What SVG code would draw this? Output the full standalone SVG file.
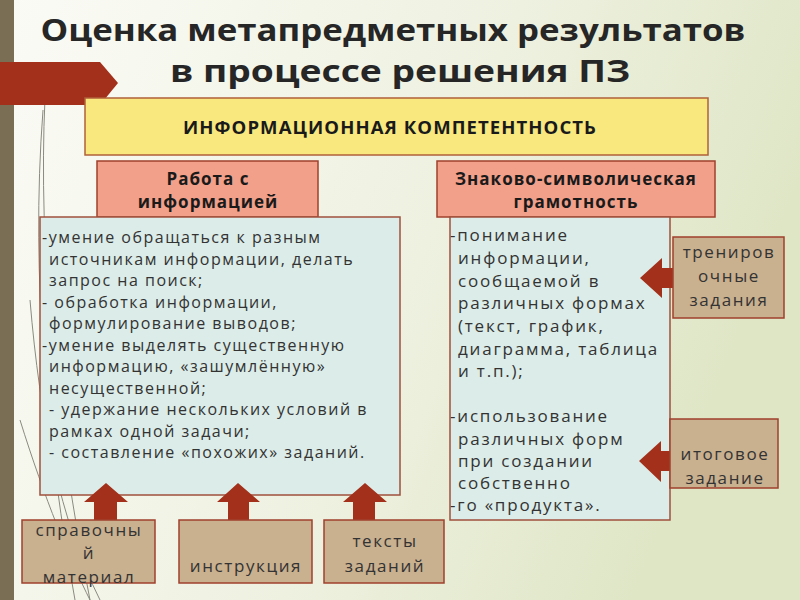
<svg xmlns="http://www.w3.org/2000/svg" width="800" height="600" viewBox="0 0 800 600">
<defs>
<linearGradient id="bg" x1="0" y1="0" x2="1" y2="0.3">
<stop offset="0" stop-color="#fbfbf6"/>
<stop offset="0.6" stop-color="#eef1e0"/>
<stop offset="1" stop-color="#dfe6c6"/>
</linearGradient>
<style>
.t{font-family:"Open Sans","Liberation Sans",sans-serif;fill:#333}
.title{font-family:"Open Sans","Liberation Sans",sans-serif;font-weight:bold;font-size:31px;fill:#262626;text-anchor:middle}
.hdr{font-family:"Open Sans","Liberation Sans",sans-serif;font-weight:bold;font-size:17px;letter-spacing:1px;fill:#1a1a1a;text-anchor:middle}
.body{font-size:16px;letter-spacing:1.5px}
.rbody{font-size:17px;letter-spacing:1.8px}
.side{font-size:17px;letter-spacing:1.6px;text-anchor:middle}
.salmon{fill:#f2a08a;stroke:#a0402c;stroke-width:1.5}
.panel{fill:#dcece8;stroke:#a0503c;stroke-width:1.5}
.tan{fill:#c9b08f;stroke:#a0402c;stroke-width:1.5}
.arr{fill:#a3301a}
.grass{fill:none;stroke:#8a8a80;stroke-width:1}
</style>
</defs>
<rect width="800" height="600" fill="url(#bg)"/>
<rect x="0" y="0" width="14" height="600" fill="#7a6e55"/>
<g id="grass">
<path class="grass" d="M45 98 C38 250 55 420 90 600"/>
<path class="grass" d="M43 110 C30 280 48 450 75 600"/>
<path class="grass" d="M30 300 C40 420 60 520 100 600"/>
<path class="grass" d="M20 420 C45 500 70 560 90 600"/>
</g>
<polygon class="arr" points="0,62 100,62 118,83 100,105 0,105"/>
<text class="title" x="393" y="41" textLength="705" lengthAdjust="spacingAndGlyphs">Оценка метапредметных результатов</text>
<text class="title" x="400" y="82" textLength="460" lengthAdjust="spacingAndGlyphs">в процессе решения ПЗ</text>
<g id="info">
<rect x="85" y="98" width="623" height="57" fill="#f8e87e" stroke="#b0603a" stroke-width="1.5"/>
<text class="hdr" x="390" y="134" font-size="17" textLength="414" lengthAdjust="spacingAndGlyphs">ИНФОРМАЦИОННАЯ КОМПЕТЕНТНОСТЬ</text>
</g>
<g id="work-hdr">
<rect class="salmon" x="97" y="161" width="221" height="56"/>
<text class="hdr" x="208" y="185">Работа с</text>
<text class="hdr" x="208" y="208">информацией</text>
</g>
<g id="work-panel">
<rect class="panel" x="40" y="217" width="360" height="278"/>
<text class="t body" x="42" y="243">-умение обращаться к разным</text>
<text class="t body" x="49" y="265">источникам информации, делать</text>
<text class="t body" x="49" y="286">запрос на поиск;</text>
<text class="t body" x="42" y="308">- обработка информации,</text>
<text class="t body" x="49" y="329">формулирование выводов;</text>
<text class="t body" x="42" y="351">-умение выделять существенную</text>
<text class="t body" x="49" y="372">информацию, «зашумлённую»</text>
<text class="t body" x="49" y="394">несущественной;</text>
<text class="t body" x="49" y="415">- удержание нескольких условий в</text>
<text class="t body" x="49" y="437">рамках одной задачи;</text>
<text class="t body" x="49" y="458">- составление  «похожих» заданий.</text>
</g>
<g id="sign-hdr">
<rect class="salmon" x="437" y="161" width="278" height="56"/>
<text class="hdr" x="576" y="185">Знаково-символическая</text>
<text class="hdr" x="576" y="208">грамотность</text>
</g>
<g id="sign-panel">
<rect class="panel" x="450" y="217" width="220" height="303"/>
<text class="t rbody" x="450" y="241">-понимание</text>
<text class="t rbody" x="458" y="264">информации,</text>
<text class="t rbody" x="458" y="287">сообщаемой в</text>
<text class="t rbody" x="458" y="309">различных формах</text>
<text class="t rbody" x="458" y="332">(текст,  график,</text>
<text class="t rbody" x="458" y="355">диаграмма, таблица</text>
<text class="t rbody" x="458" y="377">и т.п.);</text>
<text class="t rbody" x="450" y="422">-использование</text>
<text class="t rbody" x="458" y="445">различных форм</text>
<text class="t rbody" x="458" y="467">при создании</text>
<text class="t rbody" x="458" y="489">собственно</text>
<text class="t rbody" x="450" y="511">-го «продукта».</text>
</g>
<g id="connectors">
<polygon class="arr" points="640,278 662,258 662,268 680,268 680,288 662,288 662,298"/>
<polygon class="arr" points="639,461 661,441 661,451 680,451 680,471 661,471 661,482"/>
<polygon class="arr" points="106,483 128,502 117,502 117,521 94,521 94,502 84,502"/>
<polygon class="arr" points="238,483 260,502 249,502 249,521 228,521 228,502 217,502"/>
<polygon class="arr" points="365,483 387,502 375,502 375,521 353,521 353,502 343,502"/>
</g>
<g id="training">
<rect class="tan" x="673" y="237" width="111" height="81"/>
<text class="t side" x="729" y="258">трениров</text>
<text class="t side" x="729" y="282">очные</text>
<text class="t side" x="729" y="306">задания</text>
</g>
<g id="final">
<rect class="tan" x="670" y="419" width="108" height="69"/>
<text class="t side" x="725" y="460">итоговое</text>
<text class="t side" x="725" y="484">задание</text>
</g>
<g id="reference">
<rect class="tan" x="22" y="520" width="133" height="63"/>
<text class="t side" x="89" y="536">справочны</text>
<text class="t side" x="89" y="559">й</text>
<text class="t side" x="89" y="583">материал</text>
</g>
<g id="instruction">
<rect class="tan" x="179" y="520" width="133" height="63"/>
<text class="t side" x="246" y="572">инструкция</text>
</g>
<g id="texts">
<rect class="tan" x="324" y="520" width="120" height="63"/>
<text class="t side" x="385" y="547">тексты</text>
<text class="t side" x="385" y="572">заданий</text>
</g>
</svg>
